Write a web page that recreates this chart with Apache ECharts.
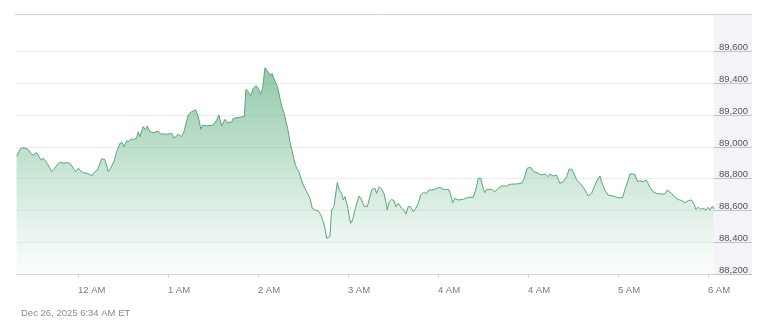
<!DOCTYPE html>
<html>
<head>
<meta charset="utf-8">
<script src="https://cdn.jsdelivr.net/npm/echarts@6/dist/echarts.min.js"></script>
<style>
html,body{margin:0;padding:0;background:#fff;}
#chart{width:771px;height:336px;}
</style>
</head>
<body>
<div id="chart"></div>
<script>
// minutes relative to 12 AM
const times = [-40.9,-38.2,-36,-33.3,-31.5,-29.8,-27.5,-26,-24.5,-23.1,-20.5,-17.5,-16,-13.1,-11.5,-9.3,-7.1,-4.9,-3.1,-1.5,0.2,1.8,3.5,6.2,9.5,10.7,12.9,14.7,15.8,17.8,19.1,20.2,21.8,24,25.8,28,29.5,30.7,32.5,34,35.5,37.3,
39.1,40.2,41.3,43.5,45.1,46.2,48,50.7,53.5,54.7,59.1,62.5,64,66.9,69.1,70.7,73.5,75.8,78.5,80.2,82,83.1,85.8,90.2,92.5,94,95.8,98,99.8,102.5,103.5,108,110.9,
112,113.5,115.1,116.9,118.7,120.2,121.8,123.1,124.7,126.2,127.5,128.5,129.5,130.7,132,133.1,134.7,136.2,137.5,138.7,139.8,141.3,142.9,144.2,145.8,147.3,148.7,150.2,152.5,154.7,156.2,158,160.2,162,163.5,164.7,165.8,166.9,168,
169.1,170.7,172.9,174.2,175.8,176.9,178,179.5,180.9,181.8,183.1,184.7,186.2,187.5,189.1,190.7,192.9,194.7,195.8,196.9,198,199.1,200.9,202.5,204,205.3,206.2,207.5,209.1,210.7,212,213.5,214.7,215.8,217.3,218.7,220.2,221.8,223.5,225.3,226.9,228.5,230.2,232.5,234,235.8,238,239.5,241.3,243.5,245.8,247.5,248.5,249.8,251.3,253.5,256.9,260.2,263.5,265.3,266.9,268.5,270.2,271.3,272.5,275.8,278,280.2,282.5,285.8,288,292.5,295.8,297.3,299.5,301.8,304,306.9,309.1,311.3,313.5,314.7,316.9,319.1,320.2,321.3,323.5,325.8,327.5,329.1,330.7,332.5,335.8,338,340.2,342.5,344.7,346.9,348,349.1,351.3,353.5,356.9,360.2,363.1,364.7,366.9,368,371.3,373.1,374.7,376.9,378.7,380.2,381.3,383.5,385.8,388,391.3,392.9,394.2,395.8,398,400.2,402.5,404.7,406.9,409.1,410.7,412,413.5,415.3,416.9,418.7,420.2,421.3,423.1,424];
const prices = [88939,88992,88995,88985,88960,88949,88964,88939,88918,88929,88897,88844,88859,88897,88903,88897,88903,88893,88866,88844,88866,88850,88838,88834,88819,88838,88855,88897,88924,88922,88886,88844,88866,88907,88970,89023,89027,89002,89039,89033,89050,89048,
89055,89096,89065,89128,89107,89132,89096,89090,89100,89082,89080,89086,89055,89080,89065,89096,89201,89222,89233,89191,89111,89138,89132,89138,89170,89201,89132,89174,89153,89157,89180,89187,89191,
89363,89348,89323,89369,89386,89369,89332,89369,89499,89480,89474,89449,89464,89428,89432,89379,89306,89243,89212,89159,89117,89033,88970,88912,88866,88844,88803,88760,88718,88677,88614,88603,88597,88572,88529,88488,88425,88419,88435,
88603,88624,88775,88729,88708,88666,88687,88635,88561,88519,88540,88603,88655,88691,88666,88628,88624,88687,88729,88718,88740,88708,88750,88733,88708,88655,88603,88655,88670,88662,88624,88645,88655,88614,88603,88578,88624,88624,88592,88614,88645,88697,88712,88708,88729,88729,88733,88740,88746,88733,88733,88729,88697,88649,88677,88666,88670,88683,88683,88733,88803,88803,88740,88712,88733,88733,88718,88740,88754,88754,88765,88767,88771,88796,88866,88872,88844,88834,88823,88830,88813,88830,88817,88823,88796,88771,88781,88813,88859,88861,88834,88792,88760,88729,88691,88708,88760,88803,88817,88781,88729,88697,88691,88680,88680,88733,88792,88830,88828,88781,88787,88781,88792,88771,88746,88718,88708,88704,88704,88729,88740,88708,88683,88670,88662,88649,88662,88666,88641,88607,88620,88607,88614,88603,88620,88603,88628,88609];
const xTickValues = [0,60,120,180,240,300,360,420];
const xTickLabels = ['12 AM','1 AM','2 AM','3 AM','4 AM','4 AM','5 AM','6 AM'];
const yTickValues = [88200,88400,88600,88800,89000,89200,89400,89600];
const dateText = 'Dec 26, 2025 6:34 AM ET';

const X_MIN = -41.3, X_DATA_END = 424, X_MAX = 449.4;
const data = times.map((t,i)=>[t,prices[i]]);
const chart = echarts.init(document.getElementById('chart'));
const FONT = '"Liberation Sans", Arial, sans-serif';
chart.setOption({
  animation:false,
  backgroundColor:'#ffffff',
  title:{text:dateText,left:16,top:303,textStyle:{fontSize:9.5,fontWeight:'normal',color:'#8a8a8a',fontFamily:FONT}},
  grid:{left:16,right:19,top:14,bottom:62},
  graphic:[
    {type:'rect',shape:{x:714,y:15,width:38,height:259},style:{fill:'rgba(222,222,236,0.35)'},silent:true},
    {type:'line',shape:{x1:15,y1:14.5,x2:752,y2:14.5},style:{stroke:'#cfcfdc',lineWidth:1},silent:true}
  ],
  xAxis:{
    type:'value',min:X_MIN,max:X_MAX,
    axisLine:{show:true,onZero:false,lineStyle:{color:'#d6d6e0'}},
    axisTick:{show:true,customValues:xTickValues,length:4,lineStyle:{color:'#cfcfda'}},
    axisLabel:{customValues:xTickValues,formatter:v=>xTickLabels[xTickValues.indexOf(v)],align:'left',margin:11,fontSize:9.5,color:'#7a7a7a',fontFamily:FONT},
    splitLine:{show:false}
  },
  yAxis:{
    type:'value',position:'right',min:88200,max:89837,
    axisLine:{show:false,onZero:false},
    axisTick:{show:false,customValues:yTickValues},
    axisLabel:{inside:true,customValues:yTickValues,formatter:v=>v.toLocaleString('en-US'),margin:4,align:'right',verticalAlign:'bottom',lineHeight:8,fontSize:9.5,color:'#555',fontFamily:FONT},
    splitLine:{show:true,lineStyle:{color:'#ececf1'}}
  },
  series:[{
    type:'line',data:data,symbol:'none',smooth:false,
    lineStyle:{color:'#5aa57a',width:1},
    areaStyle:{color:new echarts.graphic.LinearGradient(0,0,0,1,[
      {offset:0,color:'rgba(88,168,122,0.92)'},
      {offset:0.4,color:'rgba(105,182,137,0.62)'},
      {offset:0.8,color:'rgba(130,196,158,0.25)'},
      {offset:1,color:'rgba(150,205,172,0.05)'}
    ])},
    markLine:{
      silent:true,symbol:['none','none'],label:{show:false},animation:false,
      lineStyle:{color:'#c2c2d0',type:'solid',width:1},
      data:yTickValues.map(v=>[{coord:[X_DATA_END,v]},{coord:[X_MAX,v]}])
    },
    z:2
  }]
});
</script>
</body>
</html>
